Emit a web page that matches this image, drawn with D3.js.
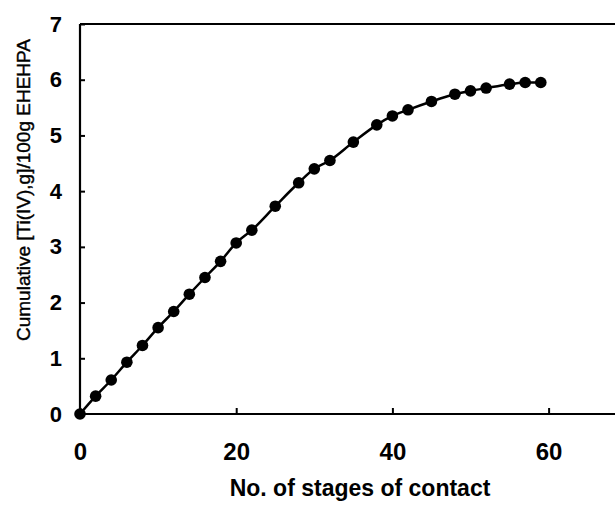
<!DOCTYPE html>
<html><head><meta charset="utf-8">
<script src="https://cdn.jsdelivr.net/npm/d3@7"></script>
<style>body{margin:0;background:#fff}svg{display:block}text{font-family:"Liberation Sans",Arial,sans-serif;fill:#000}</style>
</head><body><svg id="c" width="615" height="510"></svg>
<script>
const stages = [0,2,4,6,8,10,12,14,16,18,20,22,25,28,30,32,35,38,40,42,45,48,50,52,55,57,59];
const cumTi  = [0,0.32,0.61,0.93,1.23,1.55,1.84,2.15,2.45,2.74,3.07,3.30,3.73,4.15,4.40,4.55,4.88,5.19,5.35,5.46,5.61,5.74,5.80,5.85,5.92,5.95,5.95];
const xTicks = [0,20,40,60];
const yTicks = [0,1,2,3,4,5,6,7];
const xLabel = "No. of stages of contact";
const yLabel = "Cumulative [Ti(IV),g]/100g EHEHPA";

const svg = d3.select("#c");
const L = 80, T = 24, B = 414;
const x = d3.scaleLinear().domain([0,70]).range([L, L + 70*7.81]);
const y = d3.scaleLinear().domain([0,7]).range([B, T]);

const g = svg.append("g");
g.append("line").attr("x1",L).attr("x2",615).attr("y1",T).attr("y2",T).attr("stroke","#000").attr("stroke-width",2.2);

const xAxis = g.append("g").attr("transform",`translate(0,${B})`)
  .call(d3.axisBottom(x).tickValues(xTicks).tickSize(-6).tickPadding(29).tickFormat(d3.format("d")));
const yAxis = g.append("g").attr("transform",`translate(${L},0)`)
  .call(d3.axisLeft(y).tickValues(yTicks).tickSize(-5).tickPadding(18).tickFormat(d3.format("d")));
[xAxis,yAxis].forEach(a=>{
  a.select(".domain").attr("stroke","#000").attr("stroke-width",2.2);
  a.selectAll(".tick line").attr("stroke","#000").attr("stroke-width",2);
  a.selectAll(".tick text").style("font-weight","bold").attr("fill","#000");
});
xAxis.selectAll(".tick text").style("font-size","24px");
yAxis.selectAll(".tick text").style("font-size","22px");
xAxis.select(".domain").attr("d",`M${L},0H615`);
yAxis.select(".domain").attr("d",`M0,${T}V${B}`);

const data = stages.map((s,i)=>({s, v: cumTi[i]}));
g.append("path").datum(data)
  .attr("d", d3.line().x(d=>x(d.s)).y(d=>y(d.v)).curve(d3.curveMonotoneX))
  .attr("fill","none").attr("stroke","#000").attr("stroke-width",2.5);
g.selectAll("circle.pt").data(data).enter().append("circle")
  .attr("cx",d=>x(d.s)).attr("cy",d=>y(d.v)).attr("r",5.8).attr("fill","#000");

svg.append("text").attr("x",360).attr("y",496).attr("text-anchor","middle")
  .style("font-size","23px").style("font-weight","bold").text(xLabel);
svg.append("text").attr("transform","translate(30,190) rotate(-90)").attr("text-anchor","middle")
  .style("font-size","19px").attr("stroke","#000").attr("stroke-width",0.4).text(yLabel);
</script></body></html>
